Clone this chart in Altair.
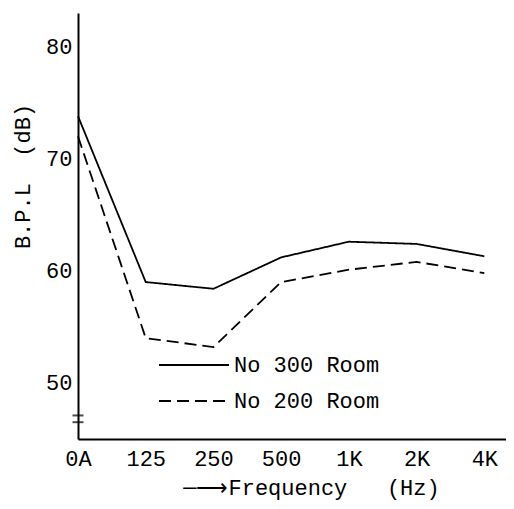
import json
import altair as alt
import pandas as pd

freq_labels = ["0A", "125", "250", "500", "1K", "2K", "4K"]
room300 = [73.8, 59.0, 58.4, 61.2, 62.6, 62.4, 61.3]
room200 = [72.0, 54.0, 53.2, 59.0, 60.1, 60.8, 59.8]
series_names = ["No 300 Room", "No 200 Room"]
y_ticks = [50, 60, 70, 80]
break_marks = [47.1, 46.5]

FONT = "Liberation Mono"
NB = "\u00a0"

rows = []
for name, vals in zip(series_names, [room300, room200]):
    for i, v in enumerate(vals):
        rows.append({"idx": i, "freq": freq_labels[i], "value": v, "series": name})
df = pd.DataFrame(rows)

x_scale = alt.Scale(domain=[0, 6.32], nice=False, zero=False)
y_scale = alt.Scale(domain=[45, 83], nice=False, zero=False)

label_expr = json.dumps(freq_labels) + "[datum.value]"

lines = alt.Chart(df).mark_line(strokeWidth=1.8, color="black").encode(
    x=alt.X("idx:Q", scale=x_scale,
            axis=alt.Axis(values=list(range(len(freq_labels))), labelExpr=label_expr,
                          labelFlush=False,
                          title="─⟶Frequency" + NB * 3 + "(Hz)", titleX=233, titleY=55,
                          titleAnchor="middle", titleAlign="center", titleBaseline="alphabetic",
                          ticks=False, grid=False, labelPadding=9)),
    y=alt.Y("value:Q", scale=y_scale,
            axis=alt.Axis(values=y_ticks, title="B.P.L" + NB * 2 + "(dB)", titleX=-56, titleY=163,
                          titleAlign="center", titleBaseline="middle", titleAngle=270,
                          ticks=False, grid=False, labelPadding=6)),
    strokeDash=alt.StrokeDash("series:N",
                              scale=alt.Scale(domain=series_names, range=[[1, 0], [12, 6]]),
                              legend=alt.Legend(title=None, orient="none", legendX=80, legendY=337,
                                                symbolType="M-1,0H4", symbolSize=784,
                                                symbolStrokeColor="black", symbolStrokeWidth=1.8,
                                                labelFont=FONT, labelFontSize=22, labelColor="black",
                                                labelOffset=46, rowPadding=10, padding=0)),
    detail="series:N",
)

brk = alt.Chart(pd.DataFrame({"y": break_marks})).mark_tick(
    color="black", orient="horizontal", size=11, thickness=2
).encode(x=alt.value(0), y=alt.Y("y:Q", scale=y_scale))

chart = alt.layer(lines, brk).properties(
    width=428, height=426,
    background="white",
    autosize=alt.AutoSizeParams(type="none"),
    padding={"left": 70, "top": 5, "right": 0, "bottom": 62},
).configure_view(stroke=None).configure_axis(
    labelFont=FONT, labelFontSize=22, labelColor="black",
    titleFont=FONT, titleFontSize=22, titleFontWeight="normal", titleColor="black",
    domainColor="black", domainWidth=2,
)

chart.save("out.html", embed_options={"renderer": "svg", "actions": False})
